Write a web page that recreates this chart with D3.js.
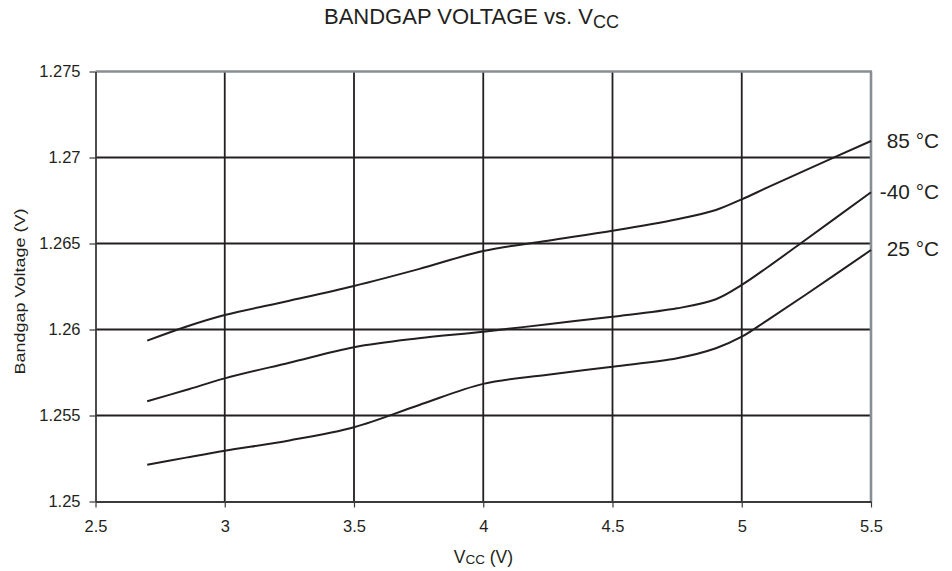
<!DOCTYPE html>
<html>
<head>
<meta charset="utf-8">
<script src="https://cdn.jsdelivr.net/npm/d3@7"></script>
<style>
  html, body { margin: 0; padding: 0; background: #fff; }
  svg { display: block; font-family: "Liberation Sans", Arial, sans-serif; }
</style>
</head>
<body>
<svg id="chart" width="952" height="571"></svg>
<script>
// ---- data ----
const vcc = [2.7, 2.85, 3, 3.25, 3.5, 3.75, 4, 4.25, 4.5, 4.75, 4.9, 5, 5.1, 5.25, 5.5];
const series85 = [1.25935, 1.26016, 1.26084, 1.26167, 1.26253, 1.26351, 1.26456, 1.26516, 1.26574, 1.26641, 1.26695, 1.26757, 1.26826, 1.26928, 1.27096];
const seriesM40 = [1.25583, 1.25648, 1.25716, 1.25807, 1.25897, 1.25949, 1.25987, 1.26031, 1.26074, 1.26123, 1.26176, 1.26259, 1.26362, 1.26525, 1.26798];
const series25 = [1.25214, 1.25255, 1.25295, 1.25355, 1.25432, 1.25560, 1.25684, 1.25737, 1.25784, 1.25833, 1.25891, 1.25958, 1.26055, 1.26205, 1.26462];
const seriesNames = ["85 °C", "-40 °C", "25 °C"];
const xTicks = [2.5, 3, 3.5, 4, 4.5, 5, 5.5];
const xTickLabels = ["2.5", "3", "3.5", "4", "4.5", "5", "5.5"];
const yTicks = [1.25, 1.255, 1.26, 1.265, 1.27, 1.275];
const yTickLabels = ["1.25", "1.255", "1.26", "1.265", "1.27", "1.275"];

// ---- layout ----
const svg = d3.select("#chart");
const L = 95.5, R = 871, T = 71.5, B = 501.5;
const ink = "#231f20";
const x = d3.scaleLinear().domain([2.5, 5.5]).range([L, R]);
const y = d3.scaleLinear().domain([1.25, 1.275]).range([B, T]);

// grid lines
const g = svg.append("g");
g.selectAll("line.vg").data(xTicks.slice(1, -1)).join("line")
  .attr("x1", d => x(d)).attr("x2", d => x(d)).attr("y1", T).attr("y2", B)
  .attr("stroke", ink).attr("stroke-width", 1.8);
g.selectAll("line.hg").data(yTicks.slice(1, -1)).join("line")
  .attr("x1", L).attr("x2", R).attr("y1", d => y(d)).attr("y2", d => y(d))
  .attr("stroke", ink).attr("stroke-width", 1.8);
// top & right border (gray)
g.append("line").attr("x1", L).attr("x2", R + 1).attr("y1", T).attr("y2", T)
  .attr("stroke", "#878e94").attr("stroke-width", 2.4);
g.append("line").attr("x1", R).attr("x2", R).attr("y1", T).attr("y2", B)
  .attr("stroke", "#878e94").attr("stroke-width", 2.6);

// axes
const yAxis = d3.axisLeft(y).tickValues(yTicks)
  .tickFormat((d, i) => yTickLabels[i]).tickSize(6).tickPadding(9).tickSizeOuter(0);
const xAxis = d3.axisBottom(x).tickValues(xTicks)
  .tickFormat((d, i) => xTickLabels[i]).tickSize(6).tickPadding(13).tickSizeOuter(0);

const ya = svg.append("g").attr("transform", `translate(${L},0)`).call(yAxis);
const xa = svg.append("g").attr("transform", `translate(0,${B})`).call(xAxis);
[ya, xa].forEach(a => {
  a.select(".domain").attr("stroke", "#3a3a3a").attr("stroke-width", 1.8);
  a.selectAll(".tick line").attr("stroke", "#3a3a3a").attr("stroke-width", 1.2);
  a.selectAll(".tick text").attr("fill", ink).style("font-size", "16.5px")
    .style("font-family", "'Liberation Sans', Arial, sans-serif");
});

// curves
const line = d3.line()
  .x((d, i) => x(vcc[i]))
  .y(d => y(d))
  .curve(d3.curveCatmullRom.alpha(0.5));
const allSeries = [series85, seriesM40, series25];
svg.append("g").selectAll("path").data(allSeries).join("path")
  .attr("d", d => line(d))
  .attr("fill", "none").attr("stroke", ink).attr("stroke-width", 2);

// series labels (right-aligned)
const labelBaselines = [147.7, 199, 255.7];
svg.append("g").selectAll("text").data(seriesNames).join("text")
  .attr("x", 939).attr("y", (d, i) => labelBaselines[i])
  .attr("text-anchor", "end").attr("fill", ink)
  .style("font-size", "20.8px").text(d => d);

// title
const title = svg.append("text").attr("x", 324).attr("y", 24)
  .attr("fill", ink).style("font-size", "22px");
title.append("tspan").text("BANDGAP VOLTAGE vs. V");
title.append("tspan").attr("dy", 4.3).style("font-size", "18px").text("CC");

// x axis title
const xt = svg.append("text").attr("x", 483.4).attr("y", 563.3)
  .attr("text-anchor", "middle").attr("fill", ink).style("font-size", "17.5px");
xt.append("tspan").text("V");
xt.append("tspan").attr("dy", 1).style("font-size", "13.5px").text("CC");
xt.append("tspan").attr("dy", -1).text(" (V)");

// y axis title
svg.append("text").attr("transform", "translate(25,291.5) rotate(-90)")
  .attr("text-anchor", "middle").attr("fill", ink)
  .attr("textLength", 166).attr("lengthAdjust", "spacingAndGlyphs")
  .style("font-size", "14px").text("Bandgap Voltage (V)");
</script>
</body>
</html>
